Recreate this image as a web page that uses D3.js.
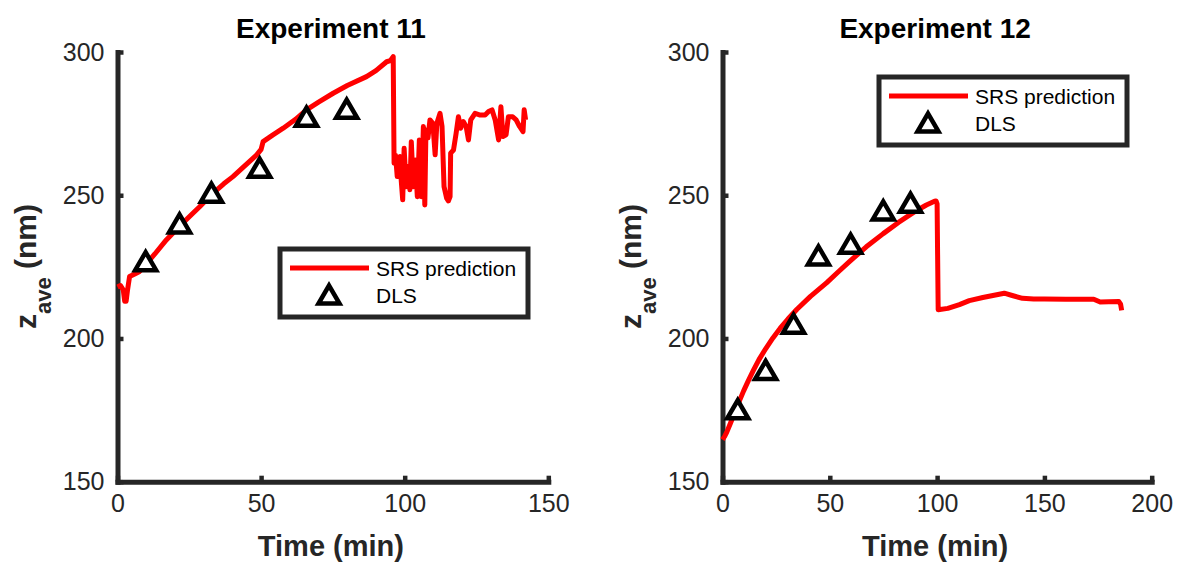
<!DOCTYPE html>
<html>
<head>
<meta charset="utf-8">
<script src="https://cdn.jsdelivr.net/npm/d3@7"></script>
<style>
  body { margin: 0; background: #fff; }
  svg { display: block; font-family: "Liberation Sans", Arial, sans-serif; }
  .axis path, .axis line { stroke: #262626; }
  .axis text { fill: #262626; }
</style>
</head>
<body>
<svg width="1178" height="564"></svg>
<script>
// Experiment 11 - SRS prediction (time in min, z_ave in nm)
var exp11Time = [0, 1, 2, 2.5, 3, 3.5, 4.2, 6, 7.7, 10, 13, 17, 20, 24, 28.6, 33, 37, 40.2, 44, 48.4, 50, 50.7, 54, 57.7, 62, 65.8, 70, 75.1, 80, 86.7, 90, 93.7, 95, 96,
  96.3, 96.8, 97.4, 97.9, 98.4, 98.8, 99.3, 99.8, 100.5, 100.9, 101.2, 101.8, 102.3, 103, 103.4, 103.7, 104.4, 105.1, 105.8, 106.5, 107, 107.4, 108.1, 108.8, 109.8, 110.6, 111.2, 112.3, 113, 113.7, 114.6, 115.2, 115.8, 116,
  117, 117.9, 118.7, 119.5, 120.4, 121.4, 122.2, 123, 124.5, 126.3, 128, 129.2, 130.4, 131.5, 132.7, 133.5, 134.2, 135.3, 136.1, 137.6, 138.8, 140, 141.2, 141.6, 142.1];
var exp11Srs = [218, 218.5, 217, 213, 213, 217, 221.6, 222.5, 223.4, 226, 229.5, 234.4, 237.5, 241.5, 246, 250.5, 254, 256.5, 260, 264, 266, 268.7, 271, 273.4, 276.5, 279.8, 282.5, 285.6, 288.3, 291.4, 293.5, 296.6, 297, 298.4,
  261.2, 264, 256.5, 259, 263.5, 255, 248.4, 266.4, 253, 258, 260, 251.9, 268.7, 253, 257, 262.3, 249.5, 269.3, 249.5, 274, 246.6, 272.8, 270, 276.3, 275.1, 264.1, 275.1, 278.6, 274, 253, 249, 248, 249.5, 264.7,
  265.8, 271.6, 277.4, 273.4, 275.7, 274, 269.3, 276.3, 278.6, 278, 278, 279.2, 279.8, 276.3, 269.3, 280.9, 270.5, 271.1, 277.4, 277.4, 276.3, 274, 272.2, 279.8, 276.3];
var exp11DlsTime = [9.8, 21.6, 32.7, 49.5, 65.8, 79.8];
var exp11Dls = [226.8, 240, 250.7, 259.4, 277.2, 280];

// Experiment 12
var exp12Time = [0, 1, 2, 3.7, 5.5, 7.1, 9.9, 12, 14.5, 17, 20.1, 23.5, 26.9, 30.5, 34.7, 41, 48.6, 54, 59.4, 67, 74.9, 82, 90.3, 95, 98.8, 99.5, 100, 100.5, 105, 110.4, 115, 121.3, 126, 131.3, 135, 139.8, 145, 150, 160, 167, 173, 176, 180, 184.7, 185.5, 186];
var exp12Srs = [164.7, 165.8, 167.3, 170.4, 173.8, 176.8, 181.8, 185.2, 189, 192.6, 196.4, 200.2, 203.6, 206.8, 210.2, 214.7, 219.5, 223.3, 227, 232, 236.6, 240.5, 244.6, 246.6, 247.9, 248, 247, 210, 210.5, 211.8, 213.2, 214.3, 215, 215.8, 215, 214, 213.8, 213.8, 213.7, 213.7, 213.7, 212.7, 212.8, 212.9, 212, 209.8];
var exp12DlsTime = [7.1, 20.1, 33.1, 44.7, 59.7, 74.9, 87.6];
var exp12Dls = [175.1, 188.8, 205, 228.8, 232.9, 244.5, 247.2];

var yTicks = [150, 200, 250, 300];

var svg = d3.select("svg");

// triangle marker, centred on its bounding box
var triPath = "M-10.5,8.5L10.5,8.5L0,-9.5Z";

function drawPanel(o) {
  var x = d3.scaleLinear().domain(o.xDomain).range([o.left, o.right]),
      y = d3.scaleLinear().domain([150, 300]).range([481.7, 52]);

  var g = svg.append("g");

  var xAxis = g.append("g")
    .attr("class", "axis")
    .attr("transform", "translate(0," + y(150) + ")")
    .call(d3.axisBottom(x).tickValues(o.xTicks).tickSizeInner(-6).tickSizeOuter(0).tickPadding(13));
  var yAxis = g.append("g")
    .attr("class", "axis")
    .attr("transform", "translate(" + x(0) + ",0)")
    .call(d3.axisLeft(y).tickValues(yTicks).tickSizeInner(-6).tickSizeOuter(0).tickPadding(13));

  [xAxis, yAxis].forEach(function(a) {
    a.select(".domain").attr("stroke-width", 5).attr("stroke-linecap", "square");
    a.selectAll(".tick line").attr("stroke-width", 4.5);
    a.selectAll("text").attr("font-size", 25).attr("font-family", "Liberation Sans, Arial, sans-serif");
  });

  var pts = o.time.map(function(t, i) { return [t, o.srs[i]]; });
  var line = d3.line().x(function(d) { return x(d[0]); }).y(function(d) { return y(d[1]); });

  g.append("path")
    .datum(pts)
    .attr("d", line)
    .attr("fill", "none")
    .attr("stroke", "#ff0000")
    .attr("stroke-width", 5)
    .attr("stroke-linejoin", "round");

  g.append("g").selectAll("path")
    .data(o.dlsTime.map(function(t, i) { return [t, o.dls[i]]; }))
    .enter().append("path")
    .attr("d", triPath)
    .attr("transform", function(d) { return "translate(" + x(d[0]) + "," + y(d[1]) + ")"; })
    .attr("fill", "#fff")
    .attr("stroke", "#000")
    .attr("stroke-width", 4.5);

  var cx = (o.left + o.right) / 2;

  g.append("text")
    .attr("x", cx - 2)
    .attr("y", 38)
    .attr("text-anchor", "middle")
    .attr("font-weight", "bold")
    .attr("font-size", 28)
    .attr("fill", "#000")
    .text(o.title);

  g.append("text")
    .attr("x", cx - 2)
    .attr("y", 556)
    .attr("text-anchor", "middle")
    .attr("font-weight", "bold")
    .attr("font-size", 29)
    .attr("fill", "#262626")
    .text("Time (min)");

  var yl = g.append("text")
    .attr("transform", "translate(" + (o.left - 81.5) + ",266.5) rotate(-90)")
    .attr("text-anchor", "middle")
    .attr("font-weight", "bold")
    .attr("font-size", 30)
    .attr("fill", "#262626");
  yl.append("tspan").text("z");
  yl.append("tspan").attr("font-size", 22).attr("dy", 15).text("ave");
  yl.append("tspan").attr("dy", -15).text("\u00a0(nm)");

  // legend
  var L = o.legend;
  var lg = g.append("g").attr("transform", "translate(" + L.x + "," + L.y + ")");
  lg.append("rect")
    .attr("width", 248).attr("height", 68)
    .attr("fill", "#fff")
    .attr("stroke", "#262626")
    .attr("stroke-width", 5);
  lg.append("line")
    .attr("x1", 10).attr("x2", 89)
    .attr("y1", 19).attr("y2", 19)
    .attr("stroke", "#ff0000").attr("stroke-width", 5);
  lg.append("path")
    .attr("d", triPath)
    .attr("transform", "translate(49,46)")
    .attr("fill", "#fff").attr("stroke", "#000").attr("stroke-width", 4.5);
  lg.append("text").attr("x", 96).attr("y", 27).attr("font-size", 21).attr("fill", "#000").text("SRS prediction");
  lg.append("text").attr("x", 96).attr("y", 54).attr("font-size", 21).attr("fill", "#000").text("DLS");
}

drawPanel({
  title: "Experiment 11",
  xDomain: [0, 150], xTicks: [0, 50, 100, 150],
  left: 117.5, right: 548.3,
  time: exp11Time, srs: exp11Srs, dlsTime: exp11DlsTime, dls: exp11Dls,
  legend: {x: 280, y: 249}
});

drawPanel({
  title: "Experiment 12",
  xDomain: [0, 200], xTicks: [0, 50, 100, 150, 200],
  left: 722.5, right: 1151.7,
  time: exp12Time, srs: exp12Srs, dlsTime: exp12DlsTime, dls: exp12Dls,
  legend: {x: 879, y: 77}
});
</script>
</body>
</html>
